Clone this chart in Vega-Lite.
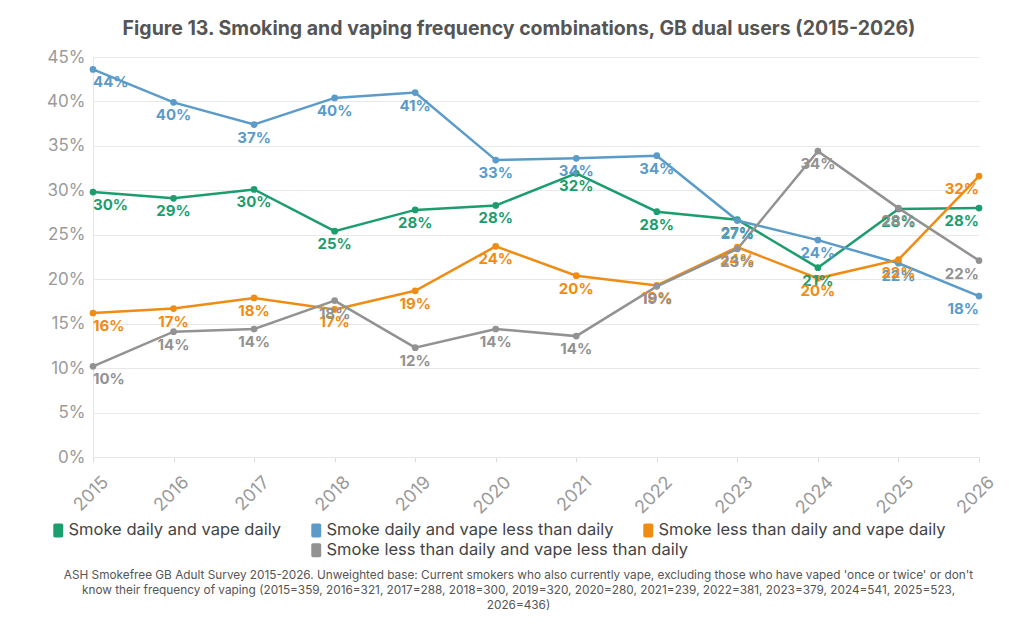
{
  "$schema": "https://vega.github.io/schema/vega-lite/v6.json",
  "description": "Smoking and vaping frequency combinations among GB dual users, 2015-2026",
  "width": 886,
  "height": 400,
  "autosize": {"type": "none"},
  "padding": {"left": 93, "top": 57, "right": 49, "bottom": 167},
  "title": {
    "text": "Figure 13. Smoking and vaping frequency combinations, GB dual users (2015-2026)",
    "fontSize": 19.5,
    "fontWeight": "bold",
    "color": "#555555",
    "anchor": "middle",
    "dx": -17,
    "offset": 9
  },
  "data": {
    "values": [
      {"year": "2015", "series": "Smoke daily and vape daily", "v": 0.298},
      {"year": "2016", "series": "Smoke daily and vape daily", "v": 0.291},
      {"year": "2017", "series": "Smoke daily and vape daily", "v": 0.301},
      {"year": "2018", "series": "Smoke daily and vape daily", "v": 0.254},
      {"year": "2019", "series": "Smoke daily and vape daily", "v": 0.278},
      {"year": "2020", "series": "Smoke daily and vape daily", "v": 0.283},
      {"year": "2021", "series": "Smoke daily and vape daily", "v": 0.319},
      {"year": "2022", "series": "Smoke daily and vape daily", "v": 0.276},
      {"year": "2023", "series": "Smoke daily and vape daily", "v": 0.267},
      {"year": "2024", "series": "Smoke daily and vape daily", "v": 0.213},
      {"year": "2025", "series": "Smoke daily and vape daily", "v": 0.279},
      {"year": "2026", "series": "Smoke daily and vape daily", "v": 0.280},
      {"year": "2015", "series": "Smoke daily and vape less than daily", "v": 0.436},
      {"year": "2016", "series": "Smoke daily and vape less than daily", "v": 0.399},
      {"year": "2017", "series": "Smoke daily and vape less than daily", "v": 0.374},
      {"year": "2018", "series": "Smoke daily and vape less than daily", "v": 0.404},
      {"year": "2019", "series": "Smoke daily and vape less than daily", "v": 0.410},
      {"year": "2020", "series": "Smoke daily and vape less than daily", "v": 0.334},
      {"year": "2021", "series": "Smoke daily and vape less than daily", "v": 0.336},
      {"year": "2022", "series": "Smoke daily and vape less than daily", "v": 0.339},
      {"year": "2023", "series": "Smoke daily and vape less than daily", "v": 0.266},
      {"year": "2024", "series": "Smoke daily and vape less than daily", "v": 0.244},
      {"year": "2025", "series": "Smoke daily and vape less than daily", "v": 0.218},
      {"year": "2026", "series": "Smoke daily and vape less than daily", "v": 0.181},
      {"year": "2015", "series": "Smoke less than daily and vape daily", "v": 0.162},
      {"year": "2016", "series": "Smoke less than daily and vape daily", "v": 0.167},
      {"year": "2017", "series": "Smoke less than daily and vape daily", "v": 0.179},
      {"year": "2018", "series": "Smoke less than daily and vape daily", "v": 0.166},
      {"year": "2019", "series": "Smoke less than daily and vape daily", "v": 0.187},
      {"year": "2020", "series": "Smoke less than daily and vape daily", "v": 0.237},
      {"year": "2021", "series": "Smoke less than daily and vape daily", "v": 0.204},
      {"year": "2022", "series": "Smoke less than daily and vape daily", "v": 0.193},
      {"year": "2023", "series": "Smoke less than daily and vape daily", "v": 0.236},
      {"year": "2024", "series": "Smoke less than daily and vape daily", "v": 0.201},
      {"year": "2025", "series": "Smoke less than daily and vape daily", "v": 0.222},
      {"year": "2026", "series": "Smoke less than daily and vape daily", "v": 0.316},
      {"year": "2015", "series": "Smoke less than daily and vape less than daily", "v": 0.102},
      {"year": "2016", "series": "Smoke less than daily and vape less than daily", "v": 0.141},
      {"year": "2017", "series": "Smoke less than daily and vape less than daily", "v": 0.144},
      {"year": "2018", "series": "Smoke less than daily and vape less than daily", "v": 0.176},
      {"year": "2019", "series": "Smoke less than daily and vape less than daily", "v": 0.123},
      {"year": "2020", "series": "Smoke less than daily and vape less than daily", "v": 0.144},
      {"year": "2021", "series": "Smoke less than daily and vape less than daily", "v": 0.136},
      {"year": "2022", "series": "Smoke less than daily and vape less than daily", "v": 0.192},
      {"year": "2023", "series": "Smoke less than daily and vape less than daily", "v": 0.234},
      {"year": "2024", "series": "Smoke less than daily and vape less than daily", "v": 0.344},
      {"year": "2025", "series": "Smoke less than daily and vape less than daily", "v": 0.280},
      {"year": "2026", "series": "Smoke less than daily and vape less than daily", "v": 0.221}
    ]
  },
  "encoding": {
    "x": {
      "field": "year",
      "type": "ordinal",
      "scale": {"type": "point", "padding": 0},
      "axis": {
        "labelAngle": -45,
        "labelFontSize": 18,
        "labelColor": "#9a9a9a",
        "labelPadding": 11,
        "labelOffset": 6,
        "tickColor": "#dddddd",
        "tickSize": 5,
        "domainColor": "#e6e6e6",
        "grid": false,
        "title": [
          "ASH Smokefree GB Adult Survey 2015-2026. Unweighted base: Current smokers who also currently vape, excluding those who have vaped 'once or twice' or don't",
          "know their frequency of vaping (2015=359, 2016=321, 2017=288, 2018=300, 2019=320, 2020=280, 2021=239, 2022=381, 2023=379, 2024=541, 2025=523,",
          "2026=436)"
        ],
        "titleFontSize": 11.8,
        "titleFontWeight": "normal",
        "titleColor": "#555555",
        "titleX": 425,
        "titleY": 112,
        "titleAlign": "center",
        "titleBaseline": "top",
        "titleLineHeight": 15,
        "titleLimit": 2000
      }
    },
    "y": {
      "field": "v",
      "type": "quantitative",
      "scale": {"domain": [0, 0.45]},
      "axis": {
        "values": [0, 0.05, 0.1, 0.15, 0.2, 0.25, 0.3, 0.35, 0.4, 0.45],
        "format": ".0%",
        "labelFontSize": 17,
        "labelColor": "#9a9a9a",
        "labelPadding": 8,
        "ticks": false,
        "domainColor": "#e6e6e6",
        "gridColor": "#e8e8e8",
        "title": null
      }
    }
  },
  "layer": [
    {
      "mark": {"type": "line", "strokeWidth": 2.5},
      "encoding": {
        "color": {
          "field": "series",
          "type": "nominal",
          "scale": {
            "domain": [
              "Smoke daily and vape daily",
              "Smoke daily and vape less than daily",
              "Smoke less than daily and vape daily",
              "Smoke less than daily and vape less than daily"
            ],
            "range": ["#1c9d6e", "#5b9bc9", "#ef8c14", "#929292"]
          },
          "legend": {
            "orient": "none",
            "legendX": -43,
            "legendY": 465,
            "direction": "horizontal",
            "values": [
              "Smoke daily and vape daily",
              "Smoke daily and vape less than daily",
              "Smoke less than daily and vape daily"
            ],
            "title": null
          }
        }
      }
    },
    {
      "mark": {"type": "point", "filled": true, "size": 45, "opacity": 1},
      "encoding": {
        "fill": {
          "field": "series",
          "type": "nominal",
          "scale": {
            "domain": [
              "Smoke less than daily and vape less than daily",
              "Smoke daily and vape daily",
              "Smoke daily and vape less than daily",
              "Smoke less than daily and vape daily"
            ],
            "range": ["#929292", "#1c9d6e", "#5b9bc9", "#ef8c14"]
          },
          "legend": {
            "orient": "none",
            "legendX": 215,
            "legendY": 485,
            "direction": "horizontal",
            "values": ["Smoke less than daily and vape less than daily"],
            "title": null
          }
        }
      }
    },
    {
      "transform": [{"filter": "datum.year == '2015'"}],
      "mark": {"type": "text", "align": "left", "baseline": "middle", "dy": 13, "fontSize": 15, "fontWeight": "bold"},
      "encoding": {
        "text": {"field": "v", "type": "quantitative", "format": ".0%"},
        "color": {"field": "series", "type": "nominal"}
      }
    },
    {
      "transform": [{"filter": "datum.year != '2015' && datum.year != '2026'"}],
      "mark": {"type": "text", "align": "center", "baseline": "middle", "dy": 13, "fontSize": 15, "fontWeight": "bold"},
      "encoding": {
        "text": {"field": "v", "type": "quantitative", "format": ".0%"},
        "color": {"field": "series", "type": "nominal"}
      }
    },
    {
      "transform": [{"filter": "datum.year == '2026'"}],
      "mark": {"type": "text", "align": "right", "baseline": "middle", "dy": 13, "fontSize": 15, "fontWeight": "bold"},
      "encoding": {
        "text": {"field": "v", "type": "quantitative", "format": ".0%"},
        "color": {"field": "series", "type": "nominal"}
      }
    }
  ],
  "config": {
    "font": "Inter",
    "view": {"stroke": null},
    "legend": {
      "padding": 0,
      "labelFontSize": 16.5,
      "labelColor": "#444444",
      "labelOffset": 2,
      "labelLimit": 500,
      "columnPadding": 26,
      "symbolType": "M-0.46,-1H0.46A0.25,0.25 0 0 1 0.71,-0.75V0.75A0.25,0.25 0 0 1 0.46,1H-0.46A0.25,0.25 0 0 1 -0.71,0.75V-0.75A0.25,0.25 0 0 1 -0.46,-1Z",
      "symbolSize": 196,
      "symbolStrokeWidth": 0,
      "symbolOpacity": 1
    }
  }
}
